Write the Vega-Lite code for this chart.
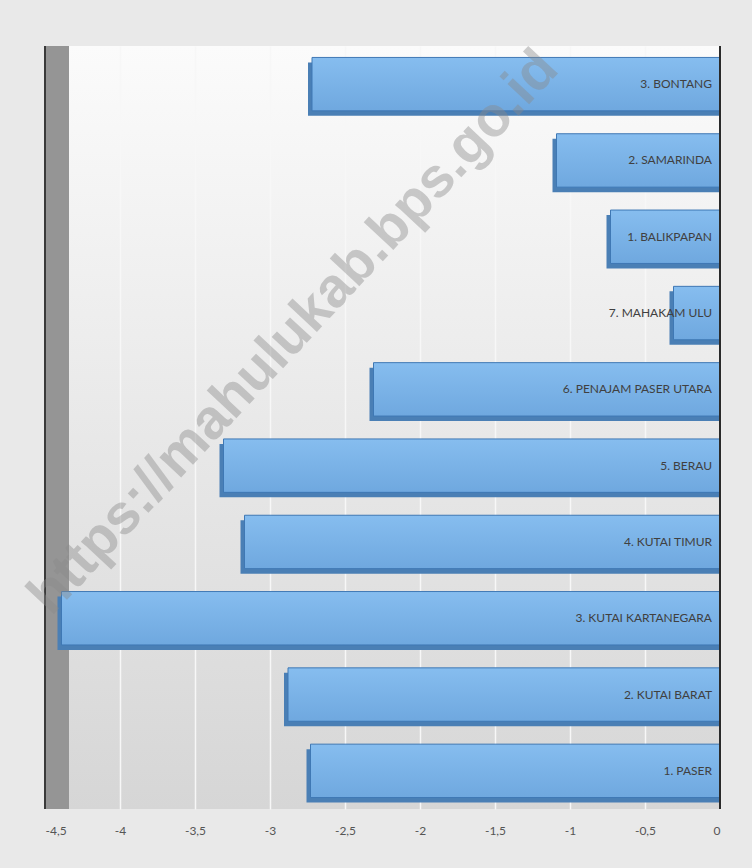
{
  "$schema": "https://vega.github.io/schema/vega-lite/v6.json",
  "width": 675,
  "height": 763,
  "autosize": {"type": "none"},
  "padding": {"left": 45, "top": 46, "right": 32, "bottom": 59},
  "background": "#e9e9e9",
  "config": {
    "view": {"stroke": null, "fill": {"gradient": "linear", "x1": 0, "y1": 0, "x2": 0, "y2": 1, "stops": [{"offset": 0, "color": "#fbfbfb"}, {"offset": 1, "color": "#d6d6d6"}]}},
    "font": "Lato"
  },
  "data": {
    "values": [
      {"region": "3. BONTANG", "value": -2.72},
      {"region": "2. SAMARINDA", "value": -1.09},
      {"region": "1. BALIKPAPAN", "value": -0.73},
      {"region": "7. MAHAKAM ULU", "value": -0.31},
      {"region": "6. PENAJAM PASER UTARA", "value": -2.31},
      {"region": "5. BERAU", "value": -3.31},
      {"region": "4. KUTAI TIMUR", "value": -3.17},
      {"region": "3. KUTAI  KARTANEGARA", "value": -4.39},
      {"region": "2. KUTAI BARAT", "value": -2.88},
      {"region": "1. PASER", "value": -2.73}
    ]
  },
  "encoding": {
    "y": {"field": "region", "type": "nominal", "sort": null, "axis": null, "scale": {"paddingInner": 0.3, "paddingOuter": 0.15}}
  },
  "layer": [
    {
      "mark": {"type": "rule", "color": "#959595", "strokeWidth": 24, "xOffset": 12},
      "encoding": {"x": {"datum": -4.5, "type": "quantitative"}, "y": null}
    },
    {
      "mark": {"type": "rule", "color": "#3a3a3a", "strokeWidth": 2},
      "encoding": {"x": {"datum": -4.5, "type": "quantitative"}, "y": null}
    },
    {
      "mark": {"type": "bar", "color": "#4a7fb5", "xOffset": -4, "yOffset": 5},
      "encoding": {
        "x": {"field": "value", "type": "quantitative"},
        "x2": {"datum": 0}
      }
    },
    {
      "mark": {"type": "bar", "stroke": "#3f78b4", "strokeWidth": 1, "fill": {"gradient": "linear", "x1": 0, "y1": 0, "x2": 0, "y2": 1, "stops": [{"offset": 0, "color": "#86bdef"}, {"offset": 1, "color": "#6fa8df"}]}},
      "encoding": {
        "x": {
          "field": "value",
          "type": "quantitative",
          "scale": {"domain": [-4.5, 0], "nice": false},
          "axis": {
            "values": [-4.5, -4, -3.5, -3, -2.5, -2, -1.5, -1, -0.5, 0],
            "labelExpr": "replace('' + datum.value, '.', ',')",
            "title": null,
            "domain": false,
            "ticks": false,
            "labelPadding": 16,
            "labelFontSize": 12,
            "labelColor": "#555555",
            "grid": true,
            "gridColor": "#f7f7f7",
            "gridWidth": 1.5
          }
        },
        "x2": {"datum": 0}
      }
    },
    {
      "mark": {"type": "rule", "color": "#2a2a2a", "strokeWidth": 2},
      "encoding": {"x": {"datum": 0, "type": "quantitative"}, "y": null}
    },
    {
      "mark": {"type": "text", "align": "right", "baseline": "middle", "dx": -8, "fontSize": 12, "color": "#404040"},
      "encoding": {
        "x": {"datum": 0, "type": "quantitative"},
        "text": {"field": "region"}
      }
    },
    {
      "data": {"values": [{"wm": "https://mahulukab.bps.go.id", "x": -2.98, "r": "7. MAHAKAM ULU"}]},
      "mark": {"type": "text", "angle": -47, "dy": 28, "font": "Liberation Sans", "fontSize": 56, "fontWeight": "bold", "color": "#8a8a8a", "opacity": 0.42, "align": "center", "baseline": "middle"},
      "encoding": {
        "x": {"field": "x", "type": "quantitative"},
        "y": {"field": "r", "type": "nominal"},
        "text": {"field": "wm"}
      }
    }
  ]
}
